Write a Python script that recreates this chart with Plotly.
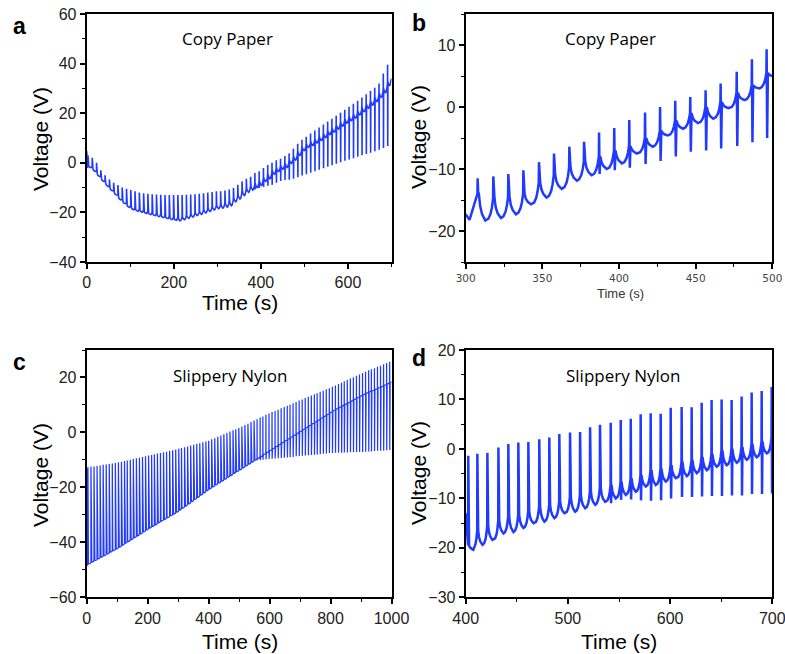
import plotly.graph_objects as go

W, H = 785, 654
BLUE = "rgb(32,58,255)"
FONT = "Liberation Sans, Arial, sans-serif"

# ---------------- Panel a: Copy Paper, 0-700 s ----------------
a_t = [2.9, 12.7, 22.6, 32.4, 42.2, 52.1, 61.9, 71.7, 81.5, 91.4, 101.2, 111.0, 120.9, 130.7,
       140.5, 150.4, 160.2, 170.0, 179.8, 189.7, 199.5, 209.3, 219.2, 229.0, 238.8, 248.7,
       258.5, 268.3, 278.1, 288.0, 297.8, 307.6, 317.5, 327.3, 337.1, 347.0, 356.8, 366.6,
       376.4, 386.3, 396.1, 405.9, 415.8, 425.6, 435.4, 445.2, 455.1, 464.9, 474.7, 484.6,
       494.4, 504.2, 514.1, 523.9, 533.7, 543.6, 553.4, 563.2, 573.0, 582.9, 592.7, 602.5,
       612.4, 622.2, 632.0, 641.9, 651.7, 661.5, 671.3, 681.2, 691.0]
a_peak = [3.0, 2.0, 0.0, -3.0, -5.0, -6.7, -8.0, -9.0, -10.0, -10.5, -11.0, -11.5, -12.0, -12.3,
          -12.5, -12.7, -12.8, -12.9, -13.0, -13.0, -13.0, -13.0, -13.0, -12.9, -12.8, -12.7,
          -12.5, -12.3, -12.0, -11.8, -11.5, -11.5, -11.2, -10.8, -10.2, -8.9, -7.5, -6.4,
          -5.6, -4.1, -3.4, -2.1, -0.9, 0.0, 1.0, 1.6, 2.7, 3.8, 5.7, 7.7,
          9.3, 10.5, 11.8, 13.0, 14.2, 15.4, 16.6, 17.8, 19.0, 20.2, 21.4, 22.6,
          23.8, 25.0, 26.3, 27.6, 29.0, 30.3, 32.0, 36.0, 39.5]
a_low = [-2.0, -3.5, -5.5, -7.5, -9.5, -11.3, -13.0, -15.0, -16.5, -18.0, -19.0, -19.6, -20.0, -20.5,
         -21.0, -21.4, -21.8, -22.2, -22.6, -23.0, -23.3, -23.4, -23.0, -22.4, -21.9, -21.3,
         -20.8, -20.2, -19.6, -19.0, -18.5, -18.3, -17.9, -17.3, -15.7, -14.6, -13.2, -11.9,
         -11.0, -10.0, -9.1, -7.5, -6.4, -4.6, -3.5, -2.6, -1.9, -0.2, 1.1, 3.0,
         4.9, 6.3, 7.0, 8.0, 9.0, 10.2, 11.4, 12.4, 13.6, 14.8, 16.0, 17.0,
         18.0, 19.3, 20.6, 22.0, 23.3, 24.7, 26.4, 28.3, 31.0]
a_pre = [-0.5, -1.5, -3.5, -5.5, -7.5, -9.5, -11.2, -13.0, -14.8, -16.3, -17.3, -18.0, -18.5,
         -19.0, -19.5, -19.9, -20.3, -20.7, -21.1, -21.5, -21.8, -21.9, -21.7, -21.2, -20.6,
         -20.0, -19.5, -18.9, -18.3, -17.7, -17.1, -16.6, -16.0, -15.4, -14.2, -12.8, -11.4,
         -10.2, -9.2, -8.2, -7.2, -6.0, -4.8, -3.2, -2.0, -1.0, -0.2, 1.2, 2.6, 4.4,
         6.2, 7.6, 8.5, 9.5, 10.5, 11.7, 12.9, 13.9, 15.1, 16.3, 17.5, 18.6,
         19.6, 20.9, 22.2, 23.6, 25.0, 26.4, 28.1, 30.0, 32.6]
a_dip = [None] * 39 + [-10.8, -10.2, -9.8, -9.3, -8.9, -8.0, -7.3, -6.9, -6.8, -6.4, -5.8,
                       -5.1, -4.6, -4.0, -3.4, -2.8, -2.2, -1.6, -1.0, -0.4, 0.2, 0.8, 1.3,
                       1.8, 2.4, 3.0, 3.5, 4.1, 4.7, 5.3, 6.0, 6.8]
a_head = [(0.0, 4.7), (1.5, -2.0)]
a_tail = [(700.0, 34.0)]

# ---------------- Panel b: Copy Paper, 300-500 s ----------------
b_t = [307.8, 318.0, 327.8, 337.6, 347.8, 357.6, 367.6, 377.2, 387.0, 396.9, 406.7, 417.0,
       426.8, 436.7, 446.5, 456.5, 466.3, 476.8, 486.7, 496.3]
b_peak = [-11.5, -11.2, -10.8, -10.2, -8.9, -7.5, -6.4, -5.6, -4.1, -3.4, -2.1, -0.9,
          0.0, 1.0, 1.6, 2.7, 3.8, 5.7, 7.7, 9.3]
b_dip = [None] * 8 + [-10.8, -10.2, -9.8, -9.2, -8.7, -8.0, -7.2, -7.0, -6.7, -6.3, -5.7, -5.0]
b_low = [-18.3, -17.9, -17.3, -15.7, -14.6, -13.2, -11.9, -11.0, -10.0, -9.1, -7.5, -6.4,
         -4.6, -3.5, -2.6, -1.9, -0.2, 1.1, 3.0, 4.9]
b_pre = [-14.0, -14.8, -14.5, -14.0, -12.2, -11.0, -9.8, -8.8, -8.0, -7.0, -6.3, -5.0,
         -3.8, -2.2, -1.0, 0.0, 0.8, 2.3, 3.5, 5.5]
b_head = [(300.0, -17.3), (302.5, -18.2)]
b_tail = [(500.0, 5.0)]

# ---------------- Panel c: Slippery Nylon, 0-1000 s ----------------
c_t = [4, 14, 24, 34, 44, 54, 64, 74, 84, 94, 104, 114, 124, 133, 143, 153, 163, 173, 183, 193,
       203, 213, 222, 232, 242, 252, 262, 272, 282, 292, 302, 311, 321, 331, 341, 351, 361, 371,
       381, 391, 400, 410, 420, 430, 440, 450, 460, 470, 480, 489, 499, 509, 519, 529, 539, 549,
       559, 569, 578, 588, 598, 608, 618, 628, 638, 648, 658, 667, 677, 687, 697, 707, 717, 727,
       737, 747, 756, 766, 776, 786, 796, 806, 816, 826, 836, 845, 855, 865, 875, 885, 895, 905,
       915, 925, 934, 944, 954, 964, 974, 984, 994]
c_low = [-47.8, -47.2, -46.6, -46.0, -45.4, -44.8, -44.2, -43.6, -43.0, -42.4, -41.7, -41.0,
         -40.3, -39.7, -39.0, -38.3, -37.6, -36.9, -36.2, -35.5, -34.8, -34.2, -33.6, -32.9,
         -32.3, -31.6, -31.0, -30.3, -29.7, -29.0, -28.3, -27.6, -26.8, -26.0, -25.2, -24.4,
         -23.6, -22.8, -22.0, -21.2, -20.5, -19.8, -19.1, -18.4, -17.7, -17.0, -16.3, -15.6,
         -14.9, -14.3, -13.6, -12.9, -12.2, -11.5, -10.8, -10.1, -9.4, -8.7, -8.0, -7.3,
         -6.6, -5.9, -5.2, -4.5, -3.8, -3.1, -2.4, -1.8, -1.1, -0.4, 0.3, 1.0, 1.7, 2.4,
         3.1, 3.8, 4.4, 5.1, 5.8, 6.5, 7.2, 7.9, 8.5, 9.1, 9.7, 10.2, 10.8, 11.4, 12.0, 12.6,
         13.2, 13.8, 14.3, 14.8, 15.2, 15.7, 16.2, 16.7, 17.2, 17.7, 18.2]
c_peak = [-12.7, -12.5, -12.4, -12.2, -12.0, -11.8, -11.7, -11.5, -11.3, -11.1, -10.9, -10.7,
          -10.4, -10.2, -9.9, -9.7, -9.4, -9.2, -8.9, -8.7, -8.4, -8.2, -7.9, -7.7, -7.5,
          -7.2, -7.0, -6.7, -6.5, -6.2, -5.9, -5.7, -5.4, -5.1, -4.8, -4.5, -4.2, -3.9, -3.6,
          -3.3, -3.0, -2.5, -2.1, -1.6, -1.1, -0.7, -0.2, 0.3, 0.8, 1.2, 1.6, 2.2, 2.7, 3.2,
          3.8, 4.3, 4.8, 5.4, 5.8, 6.4, 6.9, 7.4, 7.8, 8.3, 8.8, 9.3, 9.7, 10.1, 10.6, 11.1,
          11.6, 12.0, 12.5, 13.0, 13.4, 13.9, 14.3, 14.8, 15.2, 15.7, 16.1, 16.6, 17.1, 17.6,
          18.1, 18.6, 19.1, 19.6, 20.1, 20.6, 21.1, 21.6, 22.1, 22.6, 23.0, 23.4, 23.9, 24.3,
          24.8, 25.3, 25.7]
c_dip = [None] * 56 + [-10.1, -10.0, -9.9, -9.8, -9.7, -9.6, -9.5, -9.4, -9.3, -9.2, -9.1,
                       -9.0, -8.9, -8.7, -8.6, -8.5, -8.4, -8.3, -8.2, -8.1, -8.0, -7.9, -7.8,
                       -7.7, -7.5, -7.5, -7.4, -7.4, -7.4, -7.3, -7.3, -7.2, -7.2, -7.2, -7.1,
                       -7.1, -7.0, -6.9, -6.9, -6.8, -6.7, -6.7, -6.6, -6.5, -6.4]
c_head = [(0.0, -13.0), (1.0, -48.5)]
c_tail = [(1000.0, 18.5)]

# ---------------- Panel d: Slippery Nylon, 400-700 s ----------------
d_t = [402.5, 411.4, 421.2, 432.0, 441.7, 451.5, 461.3, 472.0, 481.8, 491.6, 502.1, 511.9,
       521.7, 531.4, 541.9, 551.7, 561.5, 571.2, 581.0, 590.8, 600.6, 611.3, 621.1, 630.9,
       640.6, 650.4, 660.2, 670.0, 679.8, 689.6, 699.4]
d_peak = [-1.4, -1.0, -0.8, 0.3, 1.0, 1.3, 1.4, 1.95, 2.3, 3.0, 3.3, 3.4, 4.4, 4.9, 5.3, 5.85,
          6.1, 7.0, 7.2, 7.1, 8.3, 8.5, 8.4, 9.35, 9.9, 10.0, 9.9, 10.6, 11.4, 11.7, 12.5]
d_low = [-20.4, -19.4, -18.4, -17.1, -16.8, -16.0, -15.0, -14.7, -14.0, -13.0, -12.7, -12.0,
         -11.3, -10.7, -10.0, -9.3, -8.65, -7.6, -7.3, -6.6, -5.9, -5.5, -4.9, -4.3, -3.6,
         -3.3, -2.8, -2.2, -1.7, -0.9, 0.4]
d_pre = [-19.5, -16.5, -15.5, -14.5, -13.6, -13.3, -12.6, -11.6, -11.3, -10.6, -9.7, -9.3,
         -8.6, -7.9, -7.3, -6.6, -5.9, -5.3, -4.3, -4.0, -3.3, -2.6, -2.2, -1.6, -1.0, -0.3,
         0.0, 0.4, 1.0, 1.5, 2.3]
d_dip = [None] * 14 + [-11.0, -10.3, -10.2, -10.4, -10.5, -10.4, -10.0, -9.7, -9.7, -9.6,
                       -9.5, -9.5, -9.4, -9.4, -9.1, -9.1, -9.0]
d_head = [(400.0, -13.0)]
d_tail = []

# shape of one cycle: (time offset, fraction between cycle minimum and pre-spike level)
DECAY = [(0.8, 1.0), (1.6, 0.55), (2.8, 0.25), (4.5, 0.05)]
RISE = [(-3.2, 0.08), (-1.8, 0.3), (-0.9, 0.6)]


def build(t, peak, low, dip, pre, head, tail):
    n = len(t)
    assert len(peak) == n and len(low) == n and len(dip) == n and len(pre) == n
    xs = [p[0] for p in head]
    ys = [p[1] for p in head]
    for k in range(n):
        p = pre[k]
        if k > 0:
            for dt, f in RISE:
                xs.append(t[k] + dt)
                ys.append(low[k - 1] + f * (p - low[k - 1]))
        d = dip[k] if dip[k] is not None else p
        xs += [t[k] - 0.15, t[k], t[k] + 0.35]
        ys += [p, peak[k], d]
        for dt, f in DECAY:
            xs.append(t[k] + dt)
            ys.append(low[k] + f * (p - low[k]))
        xs.append(t[k] + 5.0)
        ys.append(low[k])
    xs += [p[0] for p in tail]
    ys += [p[1] for p in tail]
    return xs, ys


fig = go.Figure()

panels = [
    ("x", "y", build(a_t, a_peak, a_low, a_dip, a_pre, a_head, a_tail), 1.6),
    ("x2", "y2", build(b_t, b_peak, b_low, b_dip, b_pre, b_head, b_tail), 2.5),
    ("x3", "y3", build(c_t, c_peak, c_low, c_dip, c_low, c_head, c_tail), 1.25),
    ("x4", "y4", build(d_t, d_peak, d_low, d_dip, d_pre, d_head, d_tail), 2.5),
]
for xa, ya, (xs, ys), lw in panels:
    fig.add_trace(go.Scatter(x=xs, y=ys, xaxis=xa, yaxis=ya, mode="lines",
                             line=dict(color=BLUE, width=lw), showlegend=False,
                             hoverinfo="skip"))


def px_x(p):
    return p / W


def px_y(p):
    return 1 - p / H


def axis(domain, rng, dtick, minor, font_size=16, font_family=FONT, color="#222"):
    return dict(domain=domain, range=rng, dtick=dtick, tick0=0, automargin=False,
                ticklabeloverflow="allow",
                showline=True, mirror=True, linecolor="black", linewidth=2,
                ticks="outside", ticklen=5, tickwidth=1.5, tickcolor="black",
                minor=dict(dtick=minor, tick0=0, ticks="outside", ticklen=3,
                           tickwidth=1.2, tickcolor="black"),
                showgrid=False, zeroline=False,
                tickfont=dict(family=font_family, size=font_size, color=color))


xa_dom = [px_x(86.7), px_x(391.5)]
xb_dom = [px_x(465.7), px_x(772.3)]
yt_dom = [px_y(262), px_y(14)]
yb_dom = [px_y(597.3), px_y(350)]

fig.update_layout(
    width=W, height=H, margin=dict(l=0, r=0, t=0, b=0, pad=0, autoexpand=False),
    paper_bgcolor="white", plot_bgcolor="white",
    xaxis=dict(axis(xa_dom, [0, 700], 200, 100), anchor="y"),
    yaxis=dict(axis(yt_dom, [-40, 60], 20, 10), anchor="x"),
    xaxis2=dict(axis(xb_dom, [300, 500], 50, 25, font_size=10.5,
                     font_family="DejaVu Sans, sans-serif", color="#444"), anchor="y2"),
    yaxis2=dict(axis(yt_dom, [-25, 15], 10, 5), anchor="x2"),
    xaxis3=dict(axis(xa_dom, [0, 1000], 200, 100), anchor="y3"),
    yaxis3=dict(axis(yb_dom, [-60, 30], 20, 10), anchor="x3"),
    xaxis4=dict(axis(xb_dom, [400, 700], 100, 50), anchor="y4"),
    yaxis4=dict(axis(yb_dom, [-30, 20], 10, 5), anchor="x4"),
)

ann = []


def text(s, x, y, size, family=FONT, bold=False, angle=0, color="black"):
    ann.append(dict(text=("<b>%s</b>" % s) if bold else s, x=px_x(x), y=px_y(y),
                    xref="paper", yref="paper", xanchor="center", yanchor="middle",
                    showarrow=False, textangle=angle,
                    font=dict(family=family, size=size, color=color)))


# panel letters
text("a", 19, 26, 23, bold=True)
text("b", 419, 23, 23, bold=True)
text("c", 19, 362, 23, bold=True)
text("d", 419, 358, 23, bold=True)
# sample names
text("Copy Paper", 227, 39, 17, family="Open Sans, sans-serif")
text("Copy Paper", 610, 39, 17, family="Open Sans, sans-serif")
text("Slippery Nylon", 230, 375, 17, family="Open Sans, sans-serif")
text("Slippery Nylon", 623, 375, 17, family="Open Sans, sans-serif")
# axis titles
text("Voltage (V)", 40, 139, 21, angle=-90)
text("Voltage (V)", 418, 137, 21, angle=-90)
text("Voltage (V)", 40, 475, 21, angle=-90)
text("Voltage (V)", 418, 473, 21, angle=-90)
text("Time (s)", 240, 302, 21)
text("Time (s)", 620, 293, 13, color="#333")
text("Time (s)", 240, 641, 21)
text("Time (s)", 619, 641, 21)

fig.update_layout(annotations=ann)
fig.write_html("out.html")
